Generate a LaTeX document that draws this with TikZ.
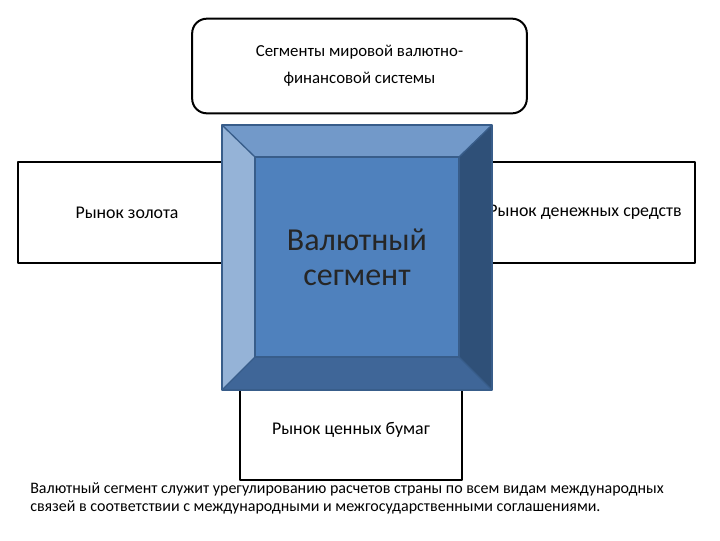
\documentclass[tikz,border=0pt]{standalone}
\usepackage{fontspec}
\setmainfont{Carlito}
\definecolor{faceblue}{HTML}{4F81BD}
\definecolor{edgeblue}{HTML}{385D8A}
\definecolor{topblue}{HTML}{7299C9}
\definecolor{leftblue}{HTML}{95B3D7}
\definecolor{rightblue}{HTML}{2F5078}
\definecolor{lowblue}{HTML}{3F6698}
\begin{document}
\begin{tikzpicture}[x=0.75pt,y=-0.75pt,line join=round,
  font=\fontsize{13.4}{16}\selectfont,
  market/.style={draw,line width=1.5pt,fill=white,inner sep=0pt},
  bevel/.style={draw=edgeblue,line width=1pt}]
\useasboundingbox (0,0) rectangle (720,540);
\def \ox{222}; \def \oy{125}; \def \OX{492}; \def \OY{390};
\def \ix{255}; \def \iy{157}; \def \IX{459}; \def \IY{357};
% title
\node[market,rounded corners=11pt,minimum width=251pt,minimum height=71pt,align=center,
  font=\fontsize{12.6}{20.5}\selectfont] (title) at (359.5,66)
  {Сегменты мировой валютно-\\финансовой системы};
% markets
\node[market,minimum width=163.5pt,minimum height=75.75pt] (gold) at (127,212.5) {Рынок золота};
\node[market,minimum width=165pt,minimum height=75.75pt] (money) at (585,212.5) {Рынок денежных средств};
\node[market,minimum width=166.5pt,minimum height=75pt] (stock) at (351,430) {Рынок ценных бумаг};
% bevelled square
\fill[topblue] (\ox,\oy) -- (\OX,\oy) -- (\IX,\iy) -- (\ix,\iy) -- cycle;
\fill[leftblue] (\ox,\oy) -- (\ix,\iy) -- (\ix,\IY) -- (\ox,\OY) -- cycle;
\fill[rightblue] (\OX,\oy) -- (\OX,\OY) -- (\IX,\IY) -- (\IX,\iy) -- cycle;
\fill[lowblue] (\ox,\OY) -- (\ix,\IY) -- (\IX,\IY) -- (\OX,\OY) -- cycle;
\fill[faceblue] (\ix,\iy) rectangle (\IX,\IY);
\draw[bevel] (\ox,\oy) rectangle (\OX,\OY) (\ix,\iy) rectangle (\IX,\IY);
\foreach \a/\b/\c/\d in {\ox/\oy/\ix/\iy, \OX/\oy/\IX/\iy, \ox/\OY/\ix/\IY, \OX/\OY/\IX/\IY}
  {\draw[bevel] (\a,\b) -- (\c,\d);}
\node[align=center,font=\fontsize{24}{26}\selectfont,text=black!85] (seg) at (357,257.5)
  {Валютный\\сегмент};
% note
\node[anchor=north west,align=left,inner sep=0pt,font=\fontsize{12}{13.5}\selectfont] (note) at (30,482)
  {Валютный сегмент служит урегулированию расчетов страны по всем видам международных\\
   связей в соответствии с международными и межгосударственными соглашениями.};
\end{tikzpicture}
\end{document}
